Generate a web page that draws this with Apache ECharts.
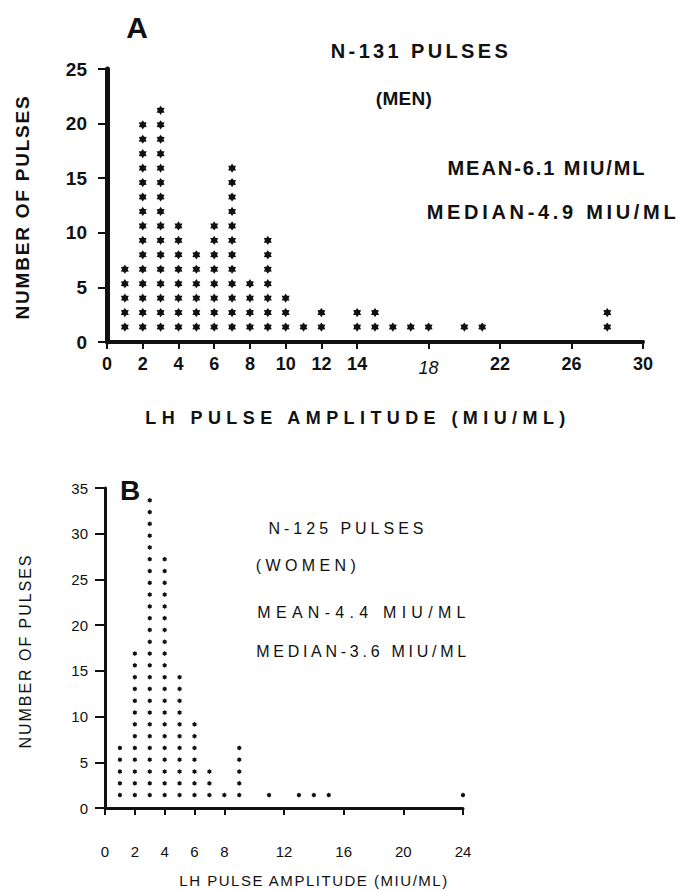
<!DOCTYPE html>
<html>
<head>
<meta charset="utf-8">
<script src="https://cdn.jsdelivr.net/npm/echarts@6/dist/echarts.min.js"></script>
<style>
  html, body { margin: 0; padding: 0; background: #fff; }
  #chart { width: 683px; height: 891px; }
</style>
</head>
<body>
<div id="chart"></div>
<script>
// ---- Panel A: men, LH pulse amplitude histogram (one star per stacked mark) ----
const menAmplitude = [1, 2, 3, 4, 5, 6, 7, 8, 9, 10, 11, 12, 14, 15, 16, 17, 18, 20, 21, 28];
const menStars     = [5, 15, 16, 8, 6, 8, 12, 4, 7, 3, 1, 2, 2, 2, 1, 1, 1, 1, 1, 2];
const menXTicks    = [0, 2, 4, 6, 8, 10, 12, 14, 18, 22, 26, 30];
const menYTicks    = [0, 5, 10, 15, 20, 25];

// ---- Panel B: women ----
const womenAmplitude = [1, 2, 3, 4, 5, 6, 7, 8, 9, 11, 13, 14, 15, 24];
const womenStars     = [5, 13, 26, 21, 11, 7, 3, 1, 5, 1, 1, 1, 1, 1];
const womenXTicks    = [0, 2, 4, 6, 8, 12, 16, 20, 24];
const womenYTicks    = [0, 5, 10, 15, 20, 25, 30, 35];

const INK = '#111';
const FONT = '"Liberation Sans", Arial, Helvetica, sans-serif';

// Vertical stacking of the stars in axis units (first star height, spacing)
const STACK_A = { first: 1.37, step: 1.323, r: 4.6, inner: 0.62 };
const STACK_B = { first: 1.41, step: 1.29, r: 2.5, inner: 0.75 };

function starPoints(cx, cy, r, inner) {
  const pts = [];
  for (let i = 0; i < 12; i++) {
    const a = Math.PI / 2 + i * Math.PI / 6;
    const rr = i % 2 === 0 ? r : r * inner;
    pts.push([cx + rr * Math.cos(a), cy - rr * Math.sin(a)]);
  }
  return pts;
}

function starColumn(stack) {
  return function (params, api) {
    const x = api.value(0);
    const n = api.value(1);
    const children = [];
    for (let k = 0; k < n; k++) {
      const c = api.coord([x, stack.first + k * stack.step]);
      children.push({
        type: 'polygon',
        shape: { points: starPoints(c[0], c[1], stack.r, stack.inner) },
        style: { fill: INK }
      });
    }
    return { type: 'group', children: children };
  };
}

// Free-standing annotations; width = span the letter-spaced text occupies
const notes = [
  { text: 'A', x: 137, y: 27, size: 30, bold: true },
  { text: 'N-131 PULSES', x: 421, y: 51, size: 20, bold: true, width: 177 },
  { text: '(MEN)', x: 404, y: 98, size: 19, bold: true, width: 56 },
  { text: 'MEAN-6.1 MIU/ML', x: 547, y: 168, size: 20, bold: true, width: 197 },
  { text: 'MEDIAN-4.9 MIU/ML', x: 553, y: 212, size: 20, bold: true, width: 249 },
  { text: 'NUMBER OF PULSES', x: 22, y: 207, size: 19, bold: true, width: 223, rotate: true },
  { text: 'LH PULSE AMPLITUDE (MIU/ML)', x: 358, y: 418, size: 18, bold: true, width: 420 },
  { text: 'B', x: 130, y: 490, size: 28, bold: true },
  { text: 'N-125 PULSES', x: 348, y: 528, size: 16, bold: false, width: 155 },
  { text: '(WOMEN)', x: 308, y: 565, size: 16, bold: false, width: 100 },
  { text: 'MEAN-4.4 MIU/ML', x: 364, y: 612, size: 16, bold: false, width: 208 },
  { text: 'MEDIAN-3.6 MIU/ML', x: 363, y: 651, size: 16, bold: false, width: 210 },
  { text: 'NUMBER OF PULSES', x: 25, y: 651, size: 16, bold: false, width: 193, rotate: true },
  { text: 'LH PULSE AMPLITUDE (MIU/ML)', x: 314, y: 880, size: 15, bold: false, width: 268 }
];

function xAxisOf(grid, max, ticks, opts) {
  return {
    gridIndex: grid, type: 'value', min: 0, max: max, interval: 2,
    axisLine: { show: true, onZero: false, lineStyle: { color: INK, width: opts.line } },
    axisTick: { show: true, customValues: ticks, length: opts.tick, lineStyle: { color: INK, width: 2 } },
    axisLabel: {
      customValues: ticks, margin: opts.margin, color: INK, fontFamily: FONT,
      fontSize: opts.font, fontWeight: opts.bold ? 'bold' : 'normal',
      formatter: opts.formatter, rich: opts.rich
    },
    splitLine: { show: false }
  };
}

function yAxisOf(grid, max, opts) {
  return {
    gridIndex: grid, type: 'value', min: 0, max: max, interval: 5,
    axisLine: { show: true, onZero: false, lineStyle: { color: INK, width: opts.line } },
    axisTick: { show: true, length: opts.tick, lineStyle: { color: INK, width: 2 } },
    axisLabel: {
      margin: opts.margin, color: INK, fontFamily: FONT,
      fontSize: opts.font, fontWeight: opts.bold ? 'bold' : 'normal'
    },
    splitLine: { show: false }
  };
}

const chart = echarts.init(document.getElementById('chart'), null, { renderer: 'svg' });

chart.setOption({
  animation: false,
  backgroundColor: '#fff',
  grid: [
    { left: 107, right: 40, top: 69, bottom: 549, outerBoundsMode: 'none' },
    { left: 105, right: 220, top: 488, bottom: 83, outerBoundsMode: 'none' }
  ],
  xAxis: [
    xAxisOf(0, 30, menXTicks, {
      line: 4, tick: 7, margin: 13, font: 18, bold: true,
      // the hand-lettered "18" sits slightly lower and slanted
      formatter: v => (v === 18 ? '{slant|18}' : String(v)),
      rich: { slant: { fontFamily: FONT, fontSize: 18, fontStyle: 'italic', fontWeight: 'normal', color: INK, padding: [4, 0, 0, 0] } }
    }),
    xAxisOf(1, 24, womenXTicks, { line: 3, tick: 7, margin: 36, font: 15, bold: false })
  ],
  yAxis: [
    yAxisOf(0, menYTicks[menYTicks.length - 1], { line: 5, tick: 9, margin: 20, font: 19, bold: true }),
    yAxisOf(1, womenYTicks[womenYTicks.length - 1], { line: 3, tick: 10, margin: 17, font: 15, bold: false })
  ],
  series: [
    {
      type: 'custom', name: 'Men', xAxisIndex: 0, yAxisIndex: 0, clip: false,
      renderItem: starColumn(STACK_A),
      data: menAmplitude.map((a, i) => [a, menStars[i]])
    },
    {
      type: 'custom', name: 'Women', xAxisIndex: 1, yAxisIndex: 1, clip: false,
      renderItem: starColumn(STACK_B),
      data: womenAmplitude.map((a, i) => [a, womenStars[i]])
    }
  ],
  graphic: notes.map(n => ({
    type: 'text', x: n.x, y: n.y, rotation: n.rotate ? Math.PI / 2 : 0,
    style: {
      text: n.text, fill: INK, fontFamily: FONT, fontSize: n.size,
      fontWeight: n.bold ? 'bold' : 'normal', align: 'center', verticalAlign: 'middle'
    }
  }))
});

// Spread the lettering of the annotations across their widths
function spreadLetters() {
  const els = document.querySelectorAll('#chart svg text');
  els.forEach(t => {
    if (t.getAttribute('data-spread')) return;
    const bold = parseInt(getComputedStyle(t).fontWeight, 10) >= 600;
    const spec = notes.find(n => n.width && n.text === t.textContent && n.bold === bold);
    if (!spec) return;
    const natural = t.getComputedTextLength();
    const gaps = Math.max(t.textContent.length - 1, 1);
    const ls = (spec.width - natural) / gaps;
    t.setAttribute('letter-spacing', ls.toFixed(2));
    t.setAttribute('data-spread', '1');
  });
}
chart.on('finished', spreadLetters);
setTimeout(spreadLetters, 30);
setTimeout(spreadLetters, 200);
</script>
</body>
</html>
